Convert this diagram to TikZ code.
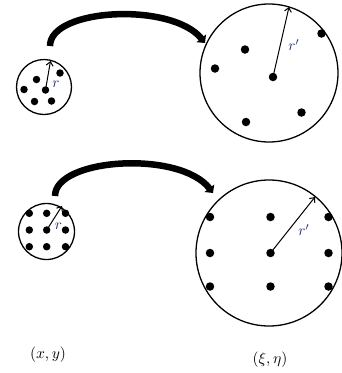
\documentclass[tikz,border=0pt]{standalone}
\usetikzlibrary{arrows.meta}
\definecolor{lblcol}{RGB}{40,50,110}
\begin{document}
\begin{tikzpicture}[x=1pt,y=-1pt,
  ring/.style={circle,draw,line width=1.3pt,inner sep=0pt},
  dot/.style={circle,fill,inner sep=0pt,minimum size=7.5pt},
  radius arrow/.style={line width=1pt,-{Straight Barb[length=4pt,width=7pt,line width=1pt]}},
  big arrow/.style={line width=6.5pt,-{Triangle[width=12pt,length=6pt]}},
  rlabel/.style={text=lblcol,scale=1.5,inner sep=0pt},
  coordlabel/.style={scale=1.55,inner sep=0pt}]
\useasboundingbox (0,0) rectangle (341,373);

% ---------- top row ----------
\node[ring,minimum size=55pt] (s1) at (44,87) {};
\node[dot] (s1c) at (45.5,90) {};
\node[dot] (s1a) at (60,73) {};
\node[dot] (s1b) at (36.5,79.5) {};
\node[dot] (s1d) at (24,89.5) {};
\node[dot] (s1e) at (34.5,101.5) {};
\node[dot] (s1f) at (51.5,101) {};
\coordinate (s1t) at (50.5,61);
\draw[radius arrow] (s1c.center) -- (s1t);
\node[rlabel] (r1) at (56,84) {$r$};

\node[ring,minimum size=138pt] (b1) at (269,73) {};
\node[dot,minimum size=8.5pt] (b1c) at (273,77) {};
\node[dot,minimum size=8.5pt] (b1a) at (321.5,33.5) {};
\node[dot,minimum size=8.5pt] (b1b) at (245,49.5) {};
\node[dot,minimum size=8.5pt] (b1d) at (215,68.5) {};
\node[dot,minimum size=8.5pt] (b1e) at (301.5,112.5) {};
\node[dot,minimum size=8.5pt] (b1f) at (246,122) {};
\coordinate (b1t) at (289,7);
\draw[radius arrow] (b1c.center) -- (b1t);
\node[rlabel] (r1p) at (294,45) {$r'$};

\coordinate (a1s) at (50,46);
\coordinate (a1e) at (205,43);
\draw[big arrow] (a1s) .. controls (50,8) and (172,2) .. (a1e);

% ---------- bottom row ----------
\node[ring,minimum size=56pt] (s2) at (46.5,231.5) {};
\foreach \i/\x in {1/29.3,2/46.7,3/65.5}{
  \foreach \j/\y in {1/213.3,2/230,3/246.7}{
    \node[dot] (s2d\i\j) at (\x,\y) {};
  }
}
\coordinate (s2t) at (62,206);
\draw[radius arrow] (s2d22.center) -- (s2t);
\node[rlabel] (r2) at (58.5,226) {$r$};

\node[ring,minimum size=146pt] (b2) at (269,253) {};
\foreach \i/\x in {1/210,2/270.5,3/328.5}{
  \foreach \j/\y in {1/217,2/253,3/286.5}{
    \node[dot,minimum size=8.5pt] (b2d\i\j) at (\x,\y) {};
  }
}
\coordinate (b2t) at (315,197);
\draw[radius arrow] (b2d22.center) -- (b2t);
\node[rlabel] (r2p) at (304,230) {$r'$};

\coordinate (a2s) at (55,196);
\coordinate (a2e) at (213,193);
\draw[big arrow] (a2s) .. controls (55,158) and (180,150) .. (a2e);

% ---------- labels ----------
\node[coordlabel] (xy) at (48,355) {$(x,y)$};
\node[coordlabel] (xieta) at (270,360) {$(\xi,\eta)$};
\end{tikzpicture}
\end{document}
